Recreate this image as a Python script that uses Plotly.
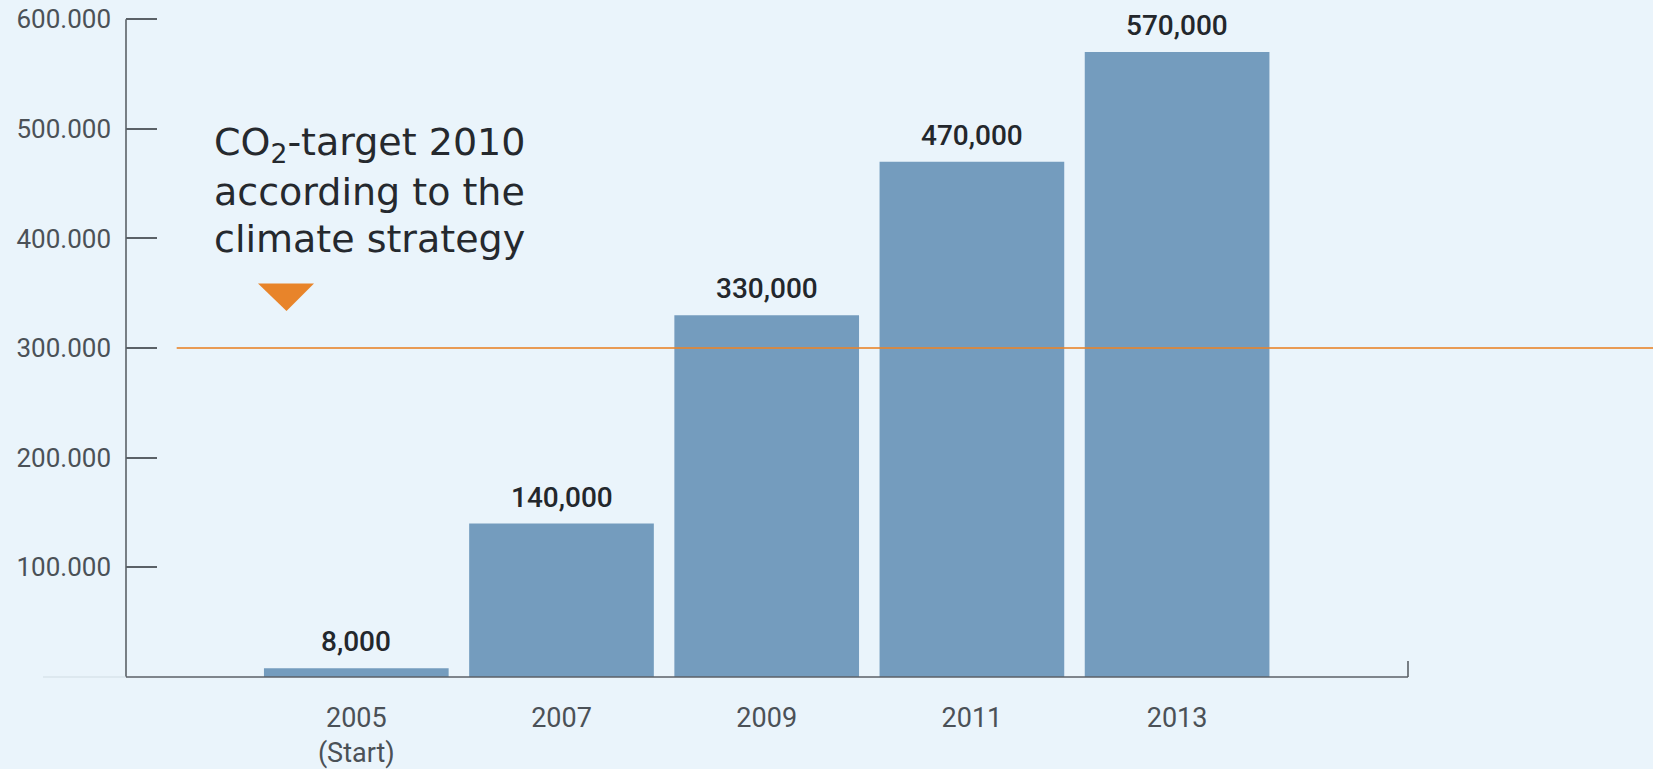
import plotly.graph_objects as go

# ---- data ----
categories = ["2005<br>(Start)", "2007", "2009", "2011", "2013"]
values = [8000, 140000, 330000, 470000, 570000]
value_labels = ["8,000", "140,000", "330,000", "470,000", "570,000"]
y_tickvals = [100, 200, 300, 400, 500, 600]  # in thousands
y_ticktext = ["100.000", "200.000", "300.000", "400.000", "500.000", "600.000"]
target_value = 300000
note_lines = ["CO<sub>2</sub>-target 2010", "according to the", "climate strategy"]

vals_k = [v / 1000 for v in values]
target_k = target_value / 1000

BG = "#EAF4FB"
BAR = "#749CBE"
AXIS = "#5b6167"
TICKTXT = "#4b5157"
ORANGE = "#E8842A"

W, H = 1653, 769
PLOT_L, PLOT_B = 126, 87
plot_w = W - PLOT_L
plot_h = H - PLOT_B
px_per_unit = (682 - 19.3) / 600.0
ytop = plot_h / px_per_unit

pitch = 205.2
xr0 = -(356.3 - PLOT_L) / pitch
xr1 = xr0 + plot_w / pitch

fig = go.Figure()
fig.add_trace(go.Bar(
    x=categories, y=vals_k, width=0.9,
    marker=dict(color=BAR, line=dict(width=0)),
    hoverinfo="skip",
))

# value labels above bars (x given as category index)
for i, (v, t) in enumerate(zip(vals_k, value_labels)):
    fig.add_annotation(x=i, y=v, text=t, showarrow=False, xanchor="center",
                       yanchor="bottom", yshift=8,
                       font=dict(family="Roboto", size=28, color="#23272c", weight=500))

def px2paper_x(p):
    return (p - PLOT_L) / plot_w

def py2paper_y(p):
    return (682 - p) / plot_h

shapes = []
# target line
shapes.append(dict(type="line", xref="paper", yref="y", x0=px2paper_x(176.7), x1=1.0,
                   y0=target_k, y1=target_k, layer="above",
                   line=dict(color="rgba(232,132,42,0.8)", width=2)))
# y axis line
shapes.append(dict(type="line", xref="paper", yref="paper", x0=0, x1=0,
                   y0=0, y1=py2paper_y(19.3), line=dict(color=AXIS, width=1.6)))
# faint baseline left of axis
shapes.append(dict(type="line", xref="paper", yref="paper", x0=px2paper_x(43), x1=0,
                   y0=0, y1=0, line=dict(color="#cfdbe4", width=1.2)))
# baseline
shapes.append(dict(type="line", xref="paper", yref="paper", x0=0, x1=px2paper_x(1408),
                   y0=0, y1=0, layer="above", line=dict(color=AXIS, width=1.6)))
# right end tick
shapes.append(dict(type="line", xref="paper", yref="paper", x0=px2paper_x(1408), x1=px2paper_x(1408),
                   y0=0, y1=py2paper_y(666), line=dict(color=AXIS, width=1.6)))
# triangle marker
shapes.append(dict(type="path", xref="paper", yref="paper",
                   path="M {a},{t} L {b},{t} L {c},{d} Z".format(
                       a=px2paper_x(258), b=px2paper_x(314), c=px2paper_x(286.5),
                       t=py2paper_y(285.7), d=py2paper_y(313.3)),
                   fillcolor=ORANGE, line=dict(width=0)))

# annotation text lines
for i, line in enumerate(note_lines):
    base = 160 + i * 47.5
    fig.add_annotation(xref="paper", yref="paper", x=px2paper_x(212), y=py2paper_y(base - 14),
                       text=line, showarrow=False, xanchor="left", yanchor="middle",
                       font=dict(family="DejaVu Sans", size=38, color="#25292e"))

fig.update_layout(
    width=W, height=H,
    paper_bgcolor=BG, plot_bgcolor=BG,
    margin=dict(l=PLOT_L, r=0, t=0, b=PLOT_B),
    showlegend=False,
    shapes=shapes,
    bargap=0.1,
    xaxis=dict(type="category", range=[xr0, xr1], showgrid=False, zeroline=False,
               showline=False, ticks="",
               tickfont=dict(family="Roboto", size=27, color=TICKTXT),
               ticklabelstandoff=22, fixedrange=True),
    yaxis=dict(range=[0, ytop], showgrid=False, zeroline=False, showline=False,
               tickvals=y_tickvals, ticktext=y_ticktext, ticks="inside", ticklen=31,
               tickwidth=1.6, tickcolor=AXIS,
               tickfont=dict(family="Roboto", size=26, color=TICKTXT),
               ticklabelstandoff=14, fixedrange=True),
)

fig.write_html(
    "out.html",
    config={"displayModeBar": False},
    post_script="document.body.style.margin='0';document.body.style.background='#EAF4FB';",
)
